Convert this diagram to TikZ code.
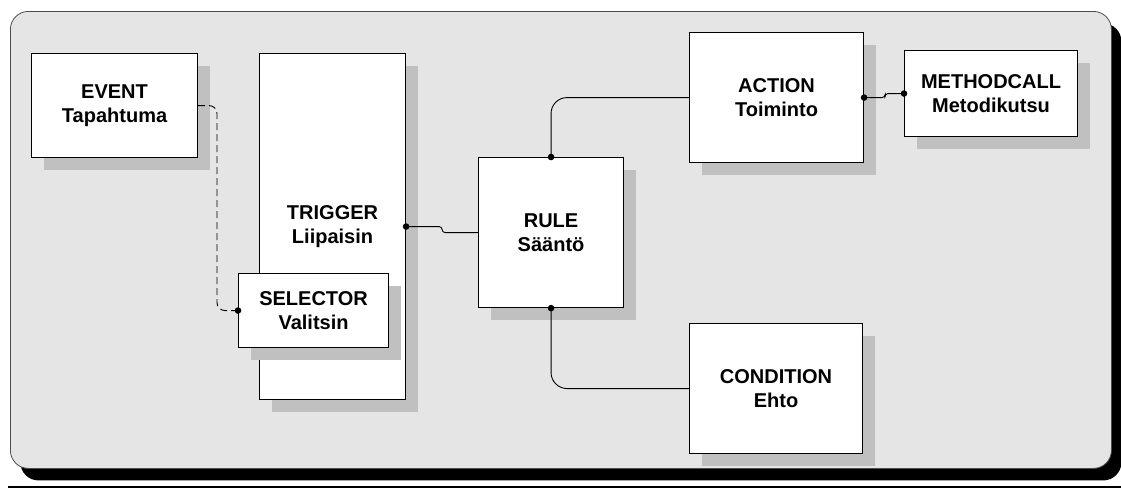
\documentclass[tikz,border=0pt]{standalone}
\usepackage{fontspec}
\setmainfont{Liberation Sans}
\usetikzlibrary{shadows}
\definecolor{panel}{HTML}{E5E5E5}
\definecolor{shade}{HTML}{C0C0C0}
\definecolor{rim}{HTML}{4D4D4D}
\begin{document}
\begin{tikzpicture}[x=1pt,y=-1pt,
  box/.style={draw=black, line width=1.1pt, fill=white, anchor=north west,
    inner sep=0pt, align=center, font=\fontsize{20}{24.5}\selectfont\bfseries,
    drop shadow={shadow xshift=12pt, shadow yshift=-12pt, fill=shade, opacity=1}},
  link/.style={draw=black, line width=0.9pt},
  pin/.style={fill=black}]
\useasboundingbox (0,0) rectangle (1121,488);

% background panel with its black shadow
\node[draw=rim, fill=panel, rounded corners=18pt, minimum width=1101pt,
  minimum height=457pt, anchor=north west, line width=0.8pt,
  drop shadow={shadow xshift=10pt, shadow yshift=-12pt, fill=black, opacity=1}]
  (panel) at (10,11) {};
\draw[line width=2pt] (8,487) -- (1121,487);

% boxes
\node[box, minimum width=166pt, minimum height=104pt] (event) at (31,53) {EVENT\\Tapahtuma};
\node[box, minimum width=146pt, minimum height=346pt] (trigger) at (259,53) {TRIGGER\\Liipaisin};
\node[box, minimum width=150pt, minimum height=74pt] (selector) at (238,273) {SELECTOR\\Valitsin};
\node[box, minimum width=145pt, minimum height=150pt] (rule) at (478,157) {RULE\\Sääntö};
\node[box, minimum width=174pt, minimum height=130pt] (action) at (689,32) {ACTION\\Toiminto};
\node[box, minimum width=173pt, minimum height=86pt] (methodcall) at (904,50) {METHODCALL\\Metodikutsu};
\node[box, minimum width=173pt, minimum height=130pt] (condition) at (689,323) {CONDITION\\Ehto};

% connectors
\coordinate (evbend) at (217,0);
\draw[link, dashed, dash pattern=on 7pt off 4pt, rounded corners=8pt]
  (event.east) -| (evbend |- selector.west) -- (selector.west);
\draw[link, rounded corners=3pt] (trigger.east) -- ++(36,0) |- (rule.west);
\draw[link, rounded corners=16pt] (rule.north) |- (action.west);
\draw[link, rounded corners=3pt] (action.east) -- ++(21,0) |- (methodcall.west);
\draw[link, rounded corners=16pt] (rule.south) |- (condition.west);

% junction dots
\foreach \p in {selector.west, trigger.east, rule.north, rule.south, action.east, methodcall.west}
  \fill[pin] (\p) circle (3.3pt);
\end{tikzpicture}
\end{document}
